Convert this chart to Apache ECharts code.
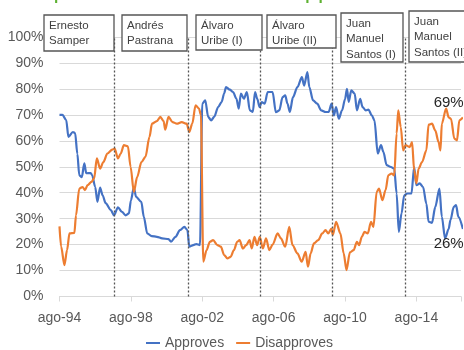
<!DOCTYPE html>
<html><head><meta charset="utf-8">
<script src="https://cdn.jsdelivr.net/npm/echarts@6/dist/echarts.min.js"></script>
<style>html,body{margin:0;padding:0;background:#fff}#c{width:464px;height:350px}</style>
</head><body><div id="c"></div>
<script>
// x = months since ago-94, y = percent
const tickLabels = ['ago-94','ago-98','ago-02','ago-06','ago-10','ago-14'];
const presidents = ['Ernesto\nSamper','Andrés\nPastrana','Álvaro\nUribe (I)','Álvaro\nUribe (II)','Juan\nManuel\nSantos (I)','Juan\nManuel\nSantos (II)'];
const transitions = [36.7, 86.7, 134.7, 183.3, 232.7];
const approves = [[0,70],[2,70],[4.5,68],[6,61.5],[9,63.4],[10.5,63],[12,55],[13.3,46.7],[15,46],[16.7,51.3],[18,47.5],[21,47.6],[22,46.7],[24,42.2],[25.5,36.5],[27.3,42],[29,39],[31,36],[34.5,33.3],[36.7,31.3],[39.3,34.4],[42,32.6],[44.5,31.3],[46.7,32],[48,37],[50,42],[51.5,38.4],[55,36.5],[56.7,30.7],[59,24.3],[62,23.3],[65.5,23],[69,22.4],[73.3,22.1],[75,21.1],[78,23],[81,25.6],[84,26.8],[86,25.6],[87.3,19.2],[90,19.8],[92,20.2],[94.5,19.8],[96,74.3],[98,75.6],[100,69.2],[102,67.9],[104,69.2],[106.7,73],[109,74.9],[110.7,78.2],[112,80.7],[114.5,79.7],[116.7,78.8],[119,76.2],[120.5,72.4],[122,78.2],[124,76.2],[126,78.8],[128,71.7],[130,71.1],[131.5,78.8],[133,76.2],[134.5,73],[136,74.9],[138,74.3],[140,78.8],[143.3,78.8],[145.5,71],[147.8,71.7],[150,76.8],[151.8,77.5],[153.3,74.3],[154.9,71.1],[157,76.8],[160,80.7],[163,84.5],[164.5,81.3],[166.7,86.5],[168,80.7],[170.5,75.6],[173.3,74.3],[176,71.7],[179,71.1],[181,71.1],[183,74.3],[184.5,69.8],[186,73],[187.8,68.5],[190,71.7],[192,76],[193.3,80],[194.5,75],[196.2,79.4],[198.5,78.2],[200,71.7],[202.2,76.2],[203.8,73],[206,71.7],[207.8,72],[210,69.8],[211.8,67.9],[214,55.1],[216.2,58.3],[217.8,55.7],[220,50.6],[222.9,49.9],[225.1,49.3],[226.7,39.7],[228.2,24.9],[230,32],[231.8,39],[234,39.7],[236.7,39.7],[238.5,49.9],[240,42.9],[242.2,43.6],[244.5,42.2],[246.7,35.8],[248.2,28.8],[250.5,28.4],[252.7,34.5],[255.5,41.6],[257.1,30.7],[259.3,22.4],[261.7,26],[262.9,29.4],[265.1,34.5],[266.7,35.2],[268.2,30.7],[271.3,26]];
const disapproves = [[0,27],[1.1,19.2],[3.3,12.1],[5.1,17.9],[6.7,24.3],[10,24.5],[11.1,31.3],[13.3,41.6],[15.5,42.2],[17.1,41],[18.9,42.9],[21.5,44.2],[23.3,45.5],[25.1,53.2],[27.3,49.3],[29.5,51.8],[32.2,55.1],[35.5,56.6],[37.1,57],[39.3,53.2],[41.1,55],[43.3,58.3],[46,57.9],[47.8,50],[50,40.3],[52.2,46],[55.1,51.8],[57.8,53.8],[60.5,61.5],[62.2,66.6],[65.5,67.6],[67.8,69.2],[70,67.6],[71.1,64.3],[73.3,69.2],[76,67.2],[78.9,66.6],[82.2,67.2],[85.5,66.6],[87.3,63.4],[89.3,66.6],[91.5,73.7],[93.8,72.4],[95.1,70],[96.7,13.4],[98.9,17.9],[101.1,21.1],[103.3,21.7],[106.2,19.8],[108.5,19.2],[110.7,16],[112.9,14.7],[115.1,15.3],[117.3,17.9],[119.5,21.1],[121.1,21.7],[123.3,18.5],[125.5,19.8],[127.8,21.7],[129.3,18.5],[131.1,23],[132.9,19.8],[134.7,23],[136.7,18.5],[138.9,22.4],[141.1,17.9],[143.3,20],[146.7,24.3],[148.9,22.4],[151.8,19.2],[154.5,26.8],[156.7,19.8],[160,16.6],[162.9,13.4],[165.5,17.2],[167.1,11.5],[168.9,16.6],[171.1,20.5],[174,21.7],[176.7,24.3],[178.9,25.6],[180.7,24.3],[182.9,26.2],[183.8,23.7],[186,28.8],[188.9,24.3],[191.1,16.6],[193,10.2],[195.3,17],[197.8,17.9],[200,21.1],[201.5,19.8],[203.3,23],[205.1,24.9],[207.3,24.3],[209.5,28.8],[211.1,26.8],[213.3,40.3],[214.9,41.6],[217.1,37.1],[219.3,41],[221.1,46.7],[223.3,47.4],[225.1,46.7],[226.7,62.8],[227.8,71.7],[229.5,65.3],[231.1,56.3],[232.7,58.3],[235.5,57.6],[237.1,59.5],[238.5,48.7],[240,43.6],[241.5,49.3],[243.8,51.8],[246.7,56.3],[248.2,66.2],[250.5,66.6],[252.7,64],[254.9,59.5],[256.2,56.3],[257.1,66.6],[260,72.4],[261.7,69],[263.3,68.5],[265.5,60.8],[267.3,60.2],[268.9,67.9],[271.3,69]];
const labelledMonth = 261.7;

const FONT = 'Liberation Sans';
const chart = echarts.init(document.getElementById('c'));

function pointAt(arr, m) { return arr.find(p => p[0] === m); }

const boxLayout = [
  {x:44,y:15,w:70,h:36},{x:122,y:15,w:65,h:36},{x:196,y:15,w:66,h:35},
  {x:267,y:15,w:69,h:33},{x:341,y:13,w:62,h:49},{x:409,y:11,w:70,h:51}
];
const graphics = [{
  type:'text', left:35, top:-20.7, z:100,
  style:{text:'Opinion of Colombians: Approval and Rejection', font:'23.8px '+FONT, fill:'#5DB131'}
}];
boxLayout.forEach((b,i)=>{
  graphics.push({type:'rect', z:100, shape:{x:b.x,y:b.y,width:b.w,height:b.h},
    style:{fill:'#fff', stroke:'#555', lineWidth:1.3}});
  graphics.push({type:'text', z:101, x:b.x+5, y:b.y+3,
    style:{text:presidents[i], font:'11.5px '+FONT, fill:'#404040', lineHeight:15.5}});
});

chart.setOption({
  animation:false,
  textStyle:{fontFamily:FONT},
  grid:{left:59.5, top:37, bottom:53.5, right:0, containLabel:false},
  legend:{left:141, top:331, icon:'rect', itemWidth:14, itemHeight:2, itemGap:12,
    textStyle:{fontSize:14, color:'#595959', fontFamily:FONT},
    data:['Approves','Disapproves']},
  xAxis:{type:'value', min:0, max:270, interval:48,
    axisLine:{lineStyle:{color:'#d9d9d9'}},
    axisTick:{show:true, length:5, lineStyle:{color:'#d9d9d9'}},
    splitLine:{show:false},
    axisLabel:{fontSize:14, color:'#595959', margin:15, fontFamily:FONT,
      formatter:v => (v % 48 === 0 && tickLabels[v/48]) ? tickLabels[v/48] : ''}},
  yAxis:{type:'value', min:0, max:100, interval:10,
    axisLine:{show:false}, axisTick:{show:false},
    splitLine:{lineStyle:{color:'#d9d9d9'}},
    axisLabel:{fontSize:14, color:'#595959', margin:16, fontFamily:FONT, formatter:'{value}%'}},
  series:[
    {name:'Approves', type:'line', data:approves, symbol:'none', smooth:0.3, smoothMonotone:'x',
      lineStyle:{color:'#4472C4', width:2.2}, itemStyle:{color:'#4472C4'},
      markPoint:{symbol:'circle', symbolSize:1, itemStyle:{color:'rgba(0,0,0,0)'},
        label:{show:true, position:'bottom', distance:7, fontSize:15, color:'#262626', fontFamily:FONT,
          formatter:p => Math.round(p.value)+'%'},
        data:[{coord:pointAt(approves,labelledMonth), value:pointAt(approves,labelledMonth)[1]}]},
      markLine:{silent:true, symbol:'none', label:{show:false},
        lineStyle:{color:'#555', type:[2,2], width:1.3},
        data:transitions.map(t=>({xAxis:t}))}
    },
    {name:'Disapproves', type:'line', data:disapproves, symbol:'none', smooth:0.3, smoothMonotone:'x',
      lineStyle:{color:'#ED7D31', width:2.2}, itemStyle:{color:'#ED7D31'},
      markPoint:{symbol:'circle', symbolSize:1, itemStyle:{color:'rgba(0,0,0,0)'},
        label:{show:true, position:'top', distance:7, fontSize:15, color:'#262626', fontFamily:FONT,
          formatter:p => Math.round(p.value)+'%'},
        data:[{coord:pointAt(disapproves,labelledMonth), value:pointAt(disapproves,labelledMonth)[1]}]}
    }
  ],
  graphic:graphics
});
</script></body></html>
